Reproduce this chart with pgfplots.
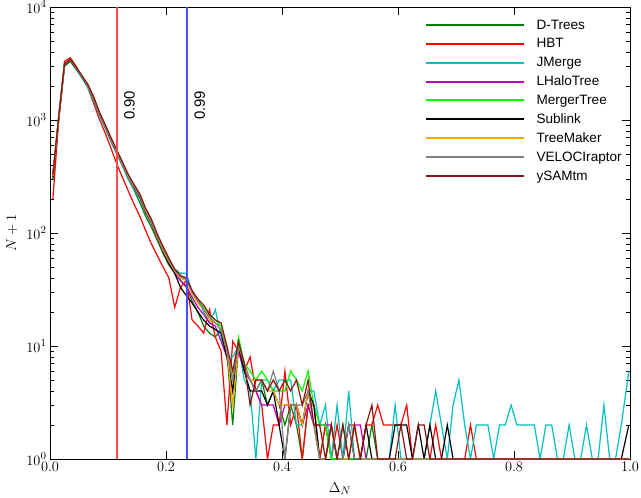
\documentclass[border=0pt]{standalone}
\usepackage{pgfplots}
\usepackage{pgfplotstable}
\usepackage{fontspec}
\pgfplotsset{compat=1.18}
\newfontfamily\hv{Liberation Sans}
\definecolor{cDT}{rgb}{0,0.5,0}
\definecolor{cHBT}{rgb}{1,0,0}
\definecolor{cJM}{rgb}{0,0.75,0.75}
\definecolor{cLH}{rgb}{0.75,0,0.75}
\definecolor{cMT}{rgb}{0,1,0}
\definecolor{cSL}{rgb}{0,0,0}
\definecolor{cTM}{rgb}{1,0.65,0}
\definecolor{cVR}{rgb}{0.5,0.5,0.5}
\definecolor{cYS}{rgb}{0.55,0.08,0.06}
\definecolor{vred}{rgb}{1,0.3,0.3}
\definecolor{vblue}{rgb}{0.3,0.3,1}
\pgfplotsset{longleg/.style={legend image code/.code={\fill[##1, draw=none] (0bp,-1bp) rectangle (98bp,1bp);}}}
\pgfplotstableread{
x dt hbt jm lh mt sl tm vr ys
0.005 300 200 330 320 330 310 320 330 330
0.015 1000 1000 1050 1040 1060 1030 1050 1060 1070
0.025 3000 3300 3050 3080 3120 3050 3100 3120 3150
0.035 3300 3550 3300 3380 3420 3350 3400 3420 3450
0.045 2850 3000 2800 2880 2920 2870 2900 2920 2950
0.055 2400 2420 2350 2410 2450 2420 2430 2450 2470
0.065 2000 1950 1950 2020 2060 2030 2040 2060 2080
0.075 1560 1420 1500 1570 1600 1580 1580 1600 1620
0.085 1130 1020 1100 1140 1165 1150 1150 1160 1180
0.095 870 770 850 880 900 890 890 900 915
0.105 660 565 640 670 690 680 680 690 700
0.115 510 410 500 520 535 525 525 532 545
0.125 395 310 390 405 418 410 410 415 425
0.135 300 235 300 312 322 316 316 320 330
0.145 240 180 245 252 262 255 257 260 268
0.155 185 140 200 208 218 210 213 216 222
0.165 140 105 150 153 160 155 157 160 165
0.175 112 80 120 122 128 124 125 127 132
0.185 86 63 90 90 96 91 92 94 98
0.195 66 50 70 68 74 68 70 72 76
0.205 52 40 56 54 58 54 56 57 60
0.215 44 22 48 44 47 44 46 47 48
0.225 38 33 44 38 41 33 40 41 42
0.235 33 38 44 34 39 28 38 39 40
0.245 25 17 30 27 29 24 29 30 31
0.255 20 15 26 22 25 20 24 25 26
0.265 15 13 20 19 22 17 21 21 23
0.275 13 21 16 16 19 15 17 18 19
0.285 12 12 21 15 17 14 16 16 17
0.295 14 9 12 11 15 13 14 14 16
0.305 9 2 8 8 9 8 9 9 10
0.315 2 11 8 4 5 4 3 5 6
0.325 10 9 10 9 12 10 10 10 11
0.335 6 6 5 6 7 6 7 7 7
0.345 5 8 4 5 6 4 5 5 3
0.355 4 4 1 4 5 4 5 4 5
0.365 5 3 5 3 6 4 5 5 5
0.375 3 1 5 3 5 3 4 4 4
0.385 4 2 4 3 4 4 4 6 5
0.395 3 2 5 2 4 2 3 4 4
0.405 2 6 5 3 4 1 3 1 5
0.415 3 2 5 3 6 3 3 3 4
0.425 2 3 2 3 5 3 3 3 5
0.435 1 1 2 2 4 2 2 3 3
0.445 3 3 4 3 6 4 4 4 5
0.455 2 3 4 2 3 3 2 2 2
0.465 1 1 2 2 2 1 1 1 2
0.475 2 2 3 2 2 1 1 1 1
0.485 1 1 1 2 1 2 2 2 2
0.495 1 2 3 1 1 1 1 1 1
0.505 2 1 1 1 1 1 1 1 2
0.515 1 2 4 1 1 2 1 2 1
0.525 1 2 1 2 1 1 2 1 2
0.535 1 1 1 2 1 1 1 1 1
0.545 1 2 1 1 1 2 1 1 2
0.555 2 2 1 1 1 1 1 1 3
0.565 1 3 1 1 1 1 1 1 1
0.575 1 2 1 1 1 1 1 1 1
0.585 1 2 1 1 1 1 1 1 1
0.595 1 2 3 1 1 2 1 1 1
0.605 1 2 1 1 1 2 1 1 2
0.615 1 3 1 1 1 2 1 1 1
0.625 1 1 1 1 1 1 1 1 1
0.635 1 1 1 1 1 2 1 1 2
0.645 1 1 1 1 1 1 1 1 2
0.655 1 1 2 1 1 2 1 1 1
0.665 1 2 4 1 1 1 1 1 1
0.675 1 1 2 1 1 1 1 1 1
0.685 1 1 1 1 1 2 1 1 1
0.695 1 1 3 1 1 1 1 1 1
0.705 1 1 5 1 1 1 1 1 1
0.715 1 1 2 1 1 1 1 1 1
0.725 1 2 1 1 1 1 1 1 1
0.735 1 1 2 1 1 1 1 1 1
0.745 1 1 2 1 1 1 1 1 1
0.755 1 1 2 1 1 1 1 1 1
0.765 1 1 1 1 1 1 1 1 1
0.775 1 1 2 1 1 1 1 1 1
0.785 1 1 2 1 1 1 1 1 1
0.795 1 1 3 1 1 1 1 1 1
0.805 1 1 2 1 1 1 1 1 1
0.815 1 1 2 1 1 1 1 1 1
0.825 1 1 2 1 1 1 1 1 1
0.835 1 1 2 1 1 1 1 1 1
0.845 1 1 1 1 1 1 1 1 1
0.855 1 1 2 1 1 1 1 1 1
0.865 1 1 2 1 1 1 1 1 1
0.875 1 1 1 1 1 1 1 1 1
0.885 1 1 1 1 1 1 1 1 1
0.895 1 1 2 1 1 1 1 1 1
0.905 1 1 1 1 1 1 1 1 1
0.915 1 1 1 1 1 1 1 1 1
0.925 1 1 2 1 1 1 1 1 1
0.935 1 1 1 1 1 1 1 1 1
0.945 1 1 1 1 1 1 1 1 1
0.955 1 1 3 1 1 1 1 1 1
0.965 1 1 1 1 1 1 1 1 1
0.975 1 1 1 1 1 1 1 1 1
0.985 1 1 2 1 1 1 1 1 1
0.998 1 1 6 1 1 2 1 1 1
}\data
\begin{document}
\begin{tikzpicture}
\begin{axis}[
  width=580bp, height=452bp, scale only axis,
  xmin=0, xmax=1, ymin=1, ymax=1e4, ymode=log,
  xtick={0,0.2,0.4,0.6,0.8,1.0},
  xticklabel style={/pgf/number format/.cd,fixed,fixed zerofill,precision=1},
  tick align=inside,
  major tick length=8bp, minor tick length=4bp,
  tick style={black, line width=0.6pt},
  axis line style={line width=0.9pt},
  tick label style={font=\fontsize{15}{15}\selectfont},
  label style={font=\fontsize{15}{15}\selectfont},
  xlabel={$\Delta_N$}, ylabel={$N+1$},
  xlabel style={at={(axis description cs:0.5,-0.066)}, anchor=center},
  ylabel style={at={(axis description cs:-0.066,0.5)}, anchor=center},
  every axis plot/.append style={line width=1.2pt},
  legend style={draw=none, fill=none, at={(0.648,0.975)}, anchor=north west,
    font=\hv\fontsize{13.6}{15}\selectfont, inner sep=0pt,
    row sep=4.8bp, nodes={inner sep=1.5bp},
    /tikz/every odd column/.append style={column sep=11bp}},
  legend cell align=left,
  longleg,
]
\addplot[cDT] table[x=x,y=dt] {\data};
\addlegendentry{D-Trees}
\addplot[cHBT] table[x=x,y=hbt] {\data};
\addlegendentry{HBT}
\addplot[cJM] table[x=x,y=jm] {\data};
\addlegendentry{JMerge}
\addplot[cLH] table[x=x,y=lh] {\data};
\addlegendentry{LHaloTree}
\addplot[cMT] table[x=x,y=mt] {\data};
\addlegendentry{MergerTree}
\addplot[cSL] table[x=x,y=sl] {\data};
\addlegendentry{Sublink}
\addplot[cTM] table[x=x,y=tm] {\data};
\addlegendentry{TreeMaker}
\addplot[cVR] table[x=x,y=vr] {\data};
\addlegendentry{VELOCIraptor}
\addplot[cYS] table[x=x,y=ys] {\data};
\addlegendentry{ySAMtm}
\addplot[forget plot, vred, line width=1.3pt] coordinates {(0.1155,1) (0.1155,10000)};
\addplot[forget plot, vblue, line width=1.3pt] coordinates {(0.236,1) (0.236,10000)};
\node[rotate=90, font=\hv\fontsize{15}{15}\selectfont] at (axis cs:0.137,1350) {0.90};
\node[rotate=90, font=\hv\fontsize{15}{15}\selectfont] at (axis cs:0.258,1350) {0.99};
\coordinate (bl) at (rel axis cs:0,0);
\coordinate (tr) at (rel axis cs:1,1);
\end{axis}
\pgfresetboundingbox
\useasboundingbox ([shift={(-50bp,-38bp)}]bl) rectangle ([shift={(11bp,7bp)}]tr);
\end{tikzpicture}
\end{document}
